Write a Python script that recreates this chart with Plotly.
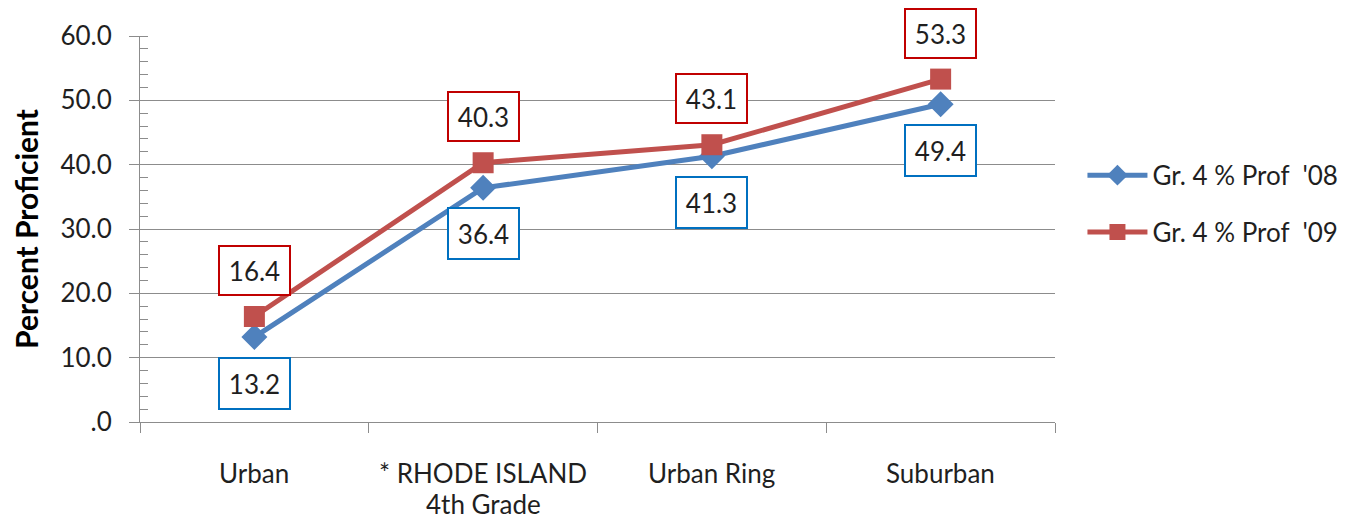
import plotly.graph_objects as go

categories = ["Urban", "* RHODE ISLAND<br>4th Grade", "Urban Ring", "Suburban"]
prof_08 = [13.2, 36.4, 41.3, 49.4]
prof_09 = [16.4, 40.3, 43.1, 53.3]
series_names = ["Gr. 4 % Prof  '08", "Gr. 4 % Prof  '09"]
y_ticks = [0, 10, 20, 30, 40, 50, 60]
y_tick_labels = [".0", "10.0", "20.0", "30.0", "40.0", "50.0", "60.0"]

FONT = "Lato, Carlito, Calibri, sans-serif"
BLUE = "#4F81BD"
RED = "#C0504D"
TXT = "#1f1f1f"

fig = go.Figure()
fig.add_trace(go.Scatter(
    x=categories, y=prof_08, name=series_names[0], mode="lines+markers",
    legendgroup="g08",
    line=dict(color=BLUE, width=5),
    marker=dict(symbol="diamond", size=20, color=BLUE),
))
fig.add_trace(go.Scatter(
    x=categories, y=prof_09, name=series_names[1], mode="lines+markers",
    legendgroup="g09",
    line=dict(color=RED, width=5),
    marker=dict(symbol="square", size=21, color=RED),
))

for cat, v in zip(categories, prof_08):
    fig.add_annotation(x=cat, y=v, text=f"{v:.1f}", showarrow=False, yshift=-46,
                       font=dict(family=FONT, size=26, color=TXT),
                       bordercolor="#0070C0", borderwidth=2, bgcolor="white",
                       width=67, height=47, borderpad=1)
for cat, v in zip(categories, prof_09):
    fig.add_annotation(x=cat, y=v, text=f"{v:.1f}", showarrow=False, yshift=46,
                       font=dict(family=FONT, size=26, color=TXT),
                       bordercolor="#C00000", borderwidth=2, bgcolor="white",
                       width=67, height=45, borderpad=1)

# category labels (drawn as annotations to control line spacing)
for cat in categories:
    for i, line in enumerate(cat.split("<br>")):
        fig.add_annotation(x=cat, y=0, xref="x", yref="paper", text=line, showarrow=False,
                           yanchor="middle", yshift=-51 - 31 * i, borderpad=0,
                           font=dict(family=FONT, size=26, color=TXT))

# page body adds an 8px offset; compensate in margins
fig.update_layout(
    width=1348, height=513,
    margin=dict(l=132, r=301, t=28, b=99),
    paper_bgcolor="white", plot_bgcolor="white",
    font=dict(family=FONT, size=26, color=TXT),
    legend=dict(x=1.03, y=0.70, xanchor="left", yanchor="top",
                font=dict(size=26, family=FONT, color=TXT),
                itemwidth=60, tracegroupgap=20, bgcolor="rgba(0,0,0,0)"),
    showlegend=True,
)
fig.update_yaxes(
    range=[0, 60], tickvals=y_ticks, ticktext=y_tick_labels,
    showgrid=True, gridcolor="#8c8c8c", gridwidth=1,
    showline=True, linecolor="#8c8c8c", linewidth=1,
    ticks="outside", ticklen=10, tickcolor="#8c8c8c",
    minor=dict(dtick=2, ticks="inside", ticklen=8, tickcolor="#8c8c8c", showgrid=False),
    zeroline=False, ticklabelstandoff=12, automargin=False,
    tickfont=dict(size=26, family=FONT, color=TXT),
    title=dict(text="<b>Percent Proficient</b>", font=dict(size=30, family=FONT, color="#000000"), standoff=22),
)
fig.update_xaxes(
    type="category", tickson="boundaries", ticks="outside", ticklen=10, tickcolor="#8c8c8c",
    showline=True, linecolor="#8c8c8c", linewidth=1, showgrid=False,
    range=[-0.5, 3.5], showticklabels=False, automargin=False,
)

fig.write_html("out.html")
